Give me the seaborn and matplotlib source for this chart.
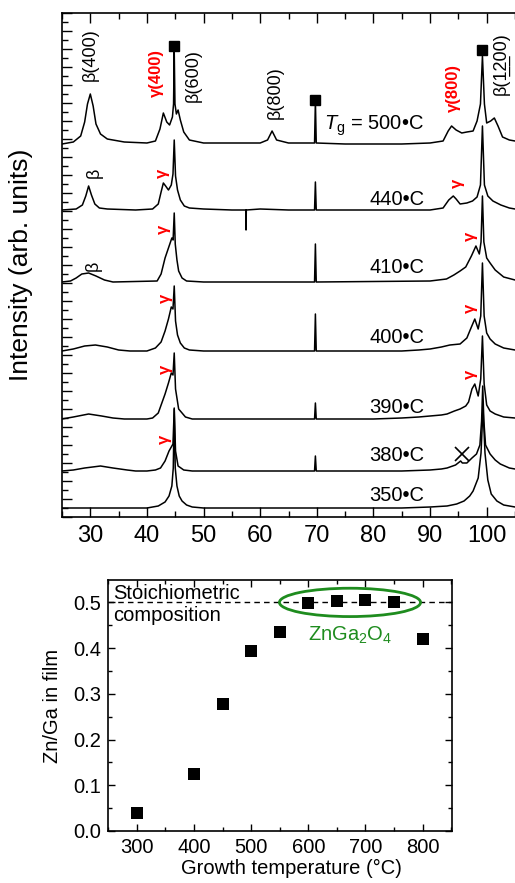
import numpy as np
import pandas as pd
import matplotlib
matplotlib.use("Agg")
import matplotlib.pyplot as plt
import seaborn as sns
from matplotlib.patches import Ellipse
from matplotlib.ticker import MultipleLocator, AutoMinorLocator

# ---------------- XRD traces (2theta, height above own baseline) ----------------
labels_T = ["500", "440", "410", "400", "390", "380", "350"]
offsets = [373, 307, 235, 166, 98, 46, 9]

trace_500 = [(25.0, 0), (27.0, 2), (28.3, 8), (29.0, 22), (29.5, 40), (30.0, 50), (30.5, 38),
             (31.0, 20), (31.8, 10), (33.0, 5), (36.0, 2), (40.0, 1), (41.5, 3), (42.3, 15),
             (42.9, 31), (43.5, 22), (44.0, 19), (44.5, 27), (44.7, 40), (44.82, 93), (44.95, 40),
             (45.2, 30), (45.5, 34), (45.9, 24), (46.5, 12), (47.5, 4), (50.0, 1), (55.0, 1),
             (60.0, 1), (61.3, 4), (62.1, 13), (62.9, 4), (65.0, 1), (69.6, 1), (69.75, 43),
             (69.9, 1), (75.0, 0), (80.0, 0), (85.0, 0), (90.0, 1), (92.3, 3), (93.2, 13),
             (93.8, 18), (94.6, 14), (95.6, 11), (96.5, 12), (97.6, 13), (98.3, 23), (98.9, 40),
             (99.25, 88), (99.6, 40), (100.0, 21), (100.7, 23), (101.35, 26), (102.0, 18),
             (102.8, 7), (104.0, 4), (105.0, 3)]
trace_440 = [(25.0, 0), (27.5, 1), (28.6, 5), (29.2, 14), (29.7, 24), (30.2, 15), (30.8, 6),
             (31.6, 2), (33.0, 1), (38.0, 0), (41.0, 1), (42.0, 6), (42.5, 18), (42.9, 27),
             (43.3, 24), (43.8, 20), (44.3, 25), (44.6, 36), (44.82, 70), (45.05, 34), (45.4, 20),
             (45.9, 10), (46.6, 4), (47.5, 2), (50.0, 1), (55.0, 0), (57.45, 0), (57.5, -20),
             (57.55, 0), (60.0, 1), (65.0, 0), (69.6, 0), (69.75, 28), (69.9, 0), (75.0, 0),
             (80.0, 0), (85.0, 0), (90.0, 0), (92.3, 2), (93.3, 10), (94.1, 14), (94.6, 11),
             (95.3, 6), (96.5, 7), (97.5, 9), (98.3, 13), (98.9, 25), (99.25, 84), (99.6, 25),
             (100.2, 14), (101.1, 9), (102.5, 5), (104.0, 2), (105.0, 1)]
trace_410 = [(25.0, 0), (26.5, 1), (27.5, 4), (28.5, 8), (29.7, 9), (31.0, 6), (32.5, 2),
             (34.0, 0), (41.8, 1), (42.5, 8), (43.2, 24), (43.8, 34), (44.4, 44), (44.62, 42),
             (44.82, 69), (45.0, 38), (45.3, 22), (45.6, 11), (46.2, 4), (47.0, 1), (50.0, 0),
             (69.6, 0), (69.75, 38), (69.9, 0), (90.0, 1), (92.9, 3), (94.2, 7), (95.3, 11),
             (96.3, 15), (97.3, 26), (98.1, 36), (98.7, 28), (99.0, 40), (99.25, 86), (99.5, 40),
             (100.0, 24), (100.6, 19), (101.5, 12), (103.0, 5), (105.0, 2)]
trace_400 = [(25.0, 0), (27.0, 2), (29.0, 5), (30.9, 6), (33.0, 4), (35.0, 1), (37.0, 0),
             (40.0, 0), (41.5, 3), (42.5, 9), (43.2, 20), (43.8, 32), (44.3, 44), (44.6, 42),
             (44.82, 65), (45.05, 30), (45.4, 16), (45.9, 8), (46.6, 3), (47.5, 1), (50.0, 0),
             (69.6, 0), (69.75, 37), (69.9, 0), (85.0, 0), (88.0, 1), (90.0, 2), (92.0, 4),
             (93.5, 6), (95.3, 7), (96.5, 13), (97.3, 24), (97.9, 32), (98.5, 22), (98.95, 35),
             (99.25, 88), (99.55, 35), (100.0, 18), (100.6, 12), (101.5, 7), (103.0, 3), (105.0, 1)]
trace_390 = [(25.0, 0), (27.0, 2), (29.7, 5), (32.0, 3), (34.0, 1), (36.0, 0), (40.0, 0),
             (41.0, 1), (42.0, 6), (43.2, 25), (43.8, 36), (44.3, 46), (44.6, 44), (44.82, 66),
             (45.05, 30), (45.6, 10), (46.8, 2), (48.0, 0), (69.6, 0), (69.75, 16), (69.9, 0),
             (80.0, 0), (85.0, 1), (88.0, 2), (90.0, 3), (92.0, 4), (93.0, 5), (94.3, 8),
             (95.3, 10), (96.3, 13), (96.8, 17), (97.4, 30), (97.9, 35), (98.5, 23), (98.95, 40),
             (99.25, 83), (99.55, 35), (100.0, 14), (100.6, 8), (101.5, 5), (103.0, 2), (105.0, 1)]
trace_380 = [(25.0, 0), (27.0, 1), (29.0, 3), (31.8, 5), (34.0, 3), (36.5, 1), (38.0, 0),
             (40.0, 0), (41.5, 1), (42.4, 3), (43.2, 10), (43.9, 20), (44.4, 25), (44.6, 27),
             (44.82, 62), (45.05, 20), (45.5, 5), (46.5, 1), (48.0, 0), (69.6, 0), (69.75, 15),
             (69.9, 0), (85.0, 0), (90.0, 1), (92.0, 2), (93.0, 3), (94.5, 6), (95.4, 10),
             (95.7, 8), (96.5, 8), (97.4, 13), (98.2, 17), (98.8, 26), (99.1, 50), (99.3, 85),
             (99.5, 50), (99.8, 26), (100.6, 17), (101.5, 11), (102.4, 7), (104.0, 3), (105.0, 2)]
trace_350 = [(25.0, 0), (40.0, 0), (42.0, 2), (43.2, 6), (43.9, 12), (44.4, 22), (44.65, 40),
             (44.82, 100), (45.0, 40), (45.3, 22), (45.7, 12), (46.2, 7), (47.0, 3), (48.0, 1),
             (50.0, 0), (85.0, 0), (90.0, 1), (93.0, 2), (94.7, 4), (96.0, 7), (97.0, 12),
             (97.6, 17), (98.5, 30), (99.0, 55), (99.35, 100), (99.7, 55), (100.2, 28),
             (100.8, 14), (101.8, 7), (103.0, 3), (105.0, 1)]
traces = [trace_500, trace_440, trace_410, trace_400, trace_390, trace_380, trace_350]

# label baselines (same units as traces)
label_y = [387, 312, 244, 174, 104, 56, 16]

# ---------------- composition data ----------------
growth_T = [300, 400, 450, 500, 550, 600, 650, 700, 750, 800]
zn_ga = [0.039, 0.124, 0.278, 0.394, 0.436, 0.4995, 0.504, 0.5055, 0.5017, 0.419]

sns.set_style("ticks")
plt.rcParams["font.family"] = ["Liberation Sans", "DejaVu Sans"]
plt.rcParams["mathtext.fontset"] = "custom"
plt.rcParams["mathtext.rm"] = "Liberation Sans"
plt.rcParams["mathtext.it"] = "Liberation Sans:italic"
for k in ["text.color", "axes.labelcolor", "xtick.color", "ytick.color", "axes.edgecolor"]:
    plt.rcParams[k] = "black"

fig = plt.figure(figsize=(5.15, 8.83), dpi=100)
ax1 = fig.add_axes([62 / 515, 366 / 883, 453 / 515, 504 / 883])
ax2 = fig.add_axes([108.3 / 515, 52 / 883, 343.4 / 515, 251 / 883])

red = "#ff0000"
green = "#1e8c1e"

for tr, off in zip(traces, offsets):
    df = pd.DataFrame(tr, columns=["tt", "h"])
    df["y"] = df["h"] + off
    sns.lineplot(data=df, x="tt", y="y", ax=ax1, color="black", lw=1.1,
                 estimator=None, sort=False)

# substrate markers
ax1.plot([44.82, 69.75, 99.25], [471, 417, 467], "s", color="black", ms=6.5)

for t, yl in zip(labels_T, label_y):
    s = r"$T_{\mathrm{g}}$ = " + t + "•C" if t == "500" else t + "•C"
    ax1.text(89.0, yl, s, ha="right", va="baseline", fontsize=14.5)

rot = dict(rotation=90, ha="center", va="center")
ax1.text(30.0, 462, "β(400)", fontsize=13, **rot)
ax1.text(41.65, 444, "γ(400)", fontsize=12, color=red, fontweight="bold", **rot)
ax1.text(48.2, 441, "β(600)", fontsize=13, **rot)
ax1.text(62.65, 424, "β(800)", fontsize=13, **rot)
ax1.text(94.05, 429, "γ(800)", fontsize=12, color=red, fontweight="bold", **rot)
ax1.text(102.5, 453, "β(1\u03322\u033200)", fontsize=13, **rot)

gam = [(42.7, 344), (94.75, 334), (42.9, 288), (97.05, 281), (43.2, 219),
       (97.2, 209), (43.2, 148), (97.2, 143), (43.05, 78)]
for gx, gy in gam:
    ax1.text(gx, gy, "γ", fontsize=12, color=red, fontweight="bold", **rot)
ax1.text(30.7, 344, "β", fontsize=13, **rot)
ax1.text(30.5, 251, "β", fontsize=13, **rot)
ax1.plot([95.6], [63], "x", color="black", ms=10, mew=1.2)

ax1.set_xlim(25, 105)
ax1.set_ylim(0, 504)
ax1.xaxis.set_major_locator(MultipleLocator(10))
ax1.xaxis.set_minor_locator(MultipleLocator(5))
ax1.yaxis.set_major_locator(MultipleLocator(18))
ax1.yaxis.set_minor_locator(AutoMinorLocator(2))
ax1.set_xticks([30, 40, 50, 60, 70, 80, 90, 100])
ax1.tick_params(axis="x", which="both", direction="in", top=True, labelsize=17, pad=6)
ax1.tick_params(axis="y", which="both", direction="in", left=True, labelleft=False)
ax1.tick_params(which="major", length=7, width=1)
ax1.tick_params(which="minor", length=4, width=1)
ax1.spines["right"].set_visible(False)
for sp in ax1.spines.values():
    sp.set_linewidth(1.2)
ax1.set_xlabel("")
ax1.set_ylabel("Intensity (arb. units)", fontsize=19)
ax1.yaxis.set_label_coords(-0.064, 0.5)

# ---------------- bottom panel ----------------
ax2.axhline(0.5, color="black", ls=(0, (4, 3)), lw=1.0, zorder=1)
sns.scatterplot(x=growth_T, y=zn_ga, ax=ax2, marker="s", s=85, color="black",
                linewidth=0, zorder=3)
ax2.add_patch(Ellipse((673, 0.5), 247, 0.062, fill=False, edgecolor=green, lw=2))
ax2.text(674, 0.428, r"ZnGa$_2$O$_4$", color=green, fontsize=14.5, ha="center", va="center")
ax2.text(0.014, 0.985, "Stoichiometric\ncomposition", transform=ax2.transAxes,
         ha="left", va="top", fontsize=14.5, linespacing=1.2)

ax2.set_xlim(250, 851)
ax2.set_ylim(0, 0.549)
ax2.xaxis.set_major_locator(MultipleLocator(100))
ax2.xaxis.set_minor_locator(MultipleLocator(50))
ax2.set_xticks([300, 400, 500, 600, 700, 800])
ax2.yaxis.set_major_locator(MultipleLocator(0.1))
ax2.yaxis.set_minor_locator(MultipleLocator(0.05))
ax2.set_yticks([0.0, 0.1, 0.2, 0.3, 0.4, 0.5])
ax2.set_yticklabels(["0.0", "0.1", "0.2", "0.3", "0.4", "0.5"])
ax2.tick_params(which="both", direction="in", top=True, right=True, labelsize=14.5, pad=5)
ax2.tick_params(which="major", length=5, width=1)
ax2.tick_params(which="minor", length=3, width=1)
for sp in ax2.spines.values():
    sp.set_linewidth(1.2)
ax2.set_xlabel("Growth temperature (°C)", fontsize=14.5)
ax2.set_ylabel("Zn/Ga in film", fontsize=14.5)
ax2.xaxis.set_label_coords(0.532, -0.112)
ax2.yaxis.set_label_coords(-0.135, 0.5)

fig.savefig("out.png", dpi=100)
